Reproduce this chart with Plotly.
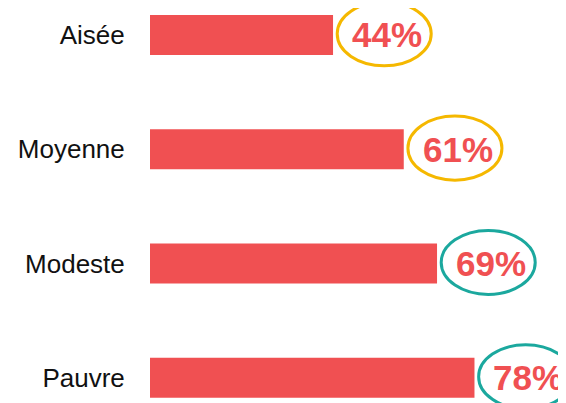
import plotly.graph_objects as go

# Data
categories = ["Aisée", "Moyenne", "Modeste", "Pauvre"]
values = [44, 61, 69, 78]
ring_colors = ["#F5B800", "#F5B800", "#1BA89E", "#1BA89E"]

BAR_RED = "#F05052"
positions = list(range(len(categories)))

fig = go.Figure()

fig.add_trace(go.Bar(
    x=values,
    y=positions,
    orientation="h",
    width=0.35,
    marker=dict(color=BAR_RED, line=dict(width=0)),
    hoverinfo="skip",
))

# Percentage labels with a hand-drawn style ring around them
for pos, val, col in zip(positions, values, ring_colors):
    fig.add_annotation(
        x=val, y=pos, xref="x", yref="y",
        text=f"<b>{val}%</b>",
        showarrow=False,
        xanchor="left", xshift=17,
        font=dict(size=35, color=BAR_RED, family="Liberation Sans, Arial, sans-serif"),
    )
    fig.add_shape(
        type="circle", xref="x", yref="y",
        x0=val + 1.0, x1=val + 23.6,
        y0=pos - 0.29, y1=pos + 0.27,
        line=dict(color=col, width=3),
        layer="above",
    )

# page body has an 8px margin, so the figure is sized to the remaining space
fig.update_layout(
    width=558, height=395,
    margin=dict(l=142, r=0, t=0, b=0),
    plot_bgcolor="white",
    paper_bgcolor="white",
    showlegend=False,
    font=dict(family="Liberation Sans, Arial, sans-serif", color="#111111"),
    xaxis=dict(range=[0, 100], visible=False, fixedrange=True, automargin=False),
    yaxis=dict(
        range=[3.22, -0.236],
        tickmode="array",
        tickvals=positions,
        ticktext=categories,
        tickfont=dict(size=26, color="#111111"),
        ticks="outside", ticklen=19, tickcolor="white",
        showgrid=False, zeroline=False, showline=False,
        fixedrange=True, automargin=False,
    ),
)

fig.write_html("out.html")
